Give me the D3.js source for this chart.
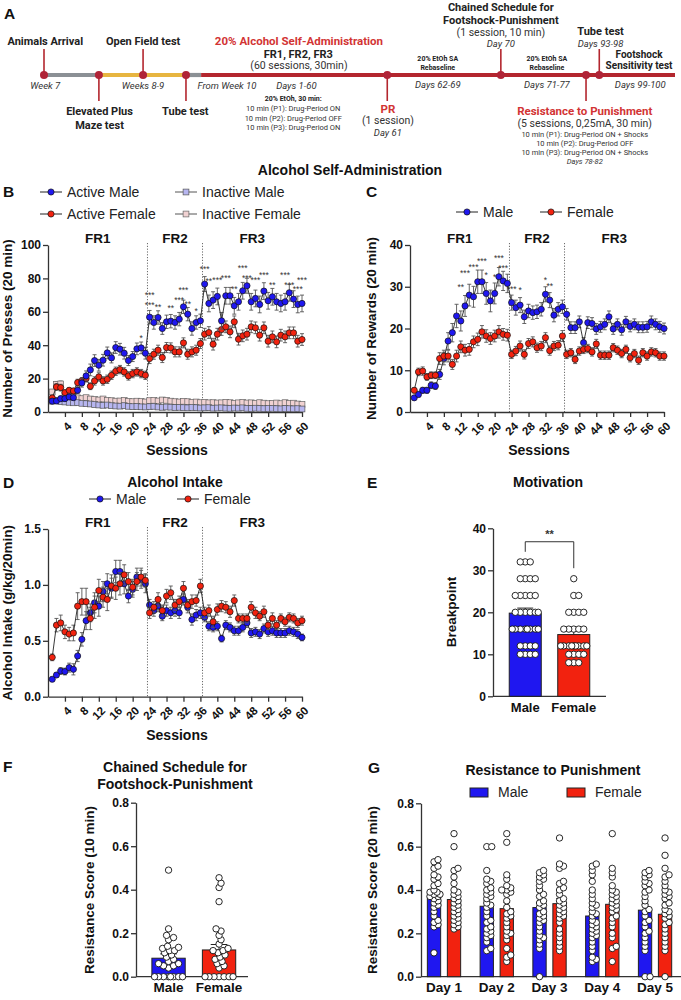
<!DOCTYPE html>
<html>
<head>
<meta charset="utf-8">
<script src="https://cdn.jsdelivr.net/npm/d3@7/dist/d3.min.js"></script>
<style>
  body { margin: 0; background: #fff; }
</style>
</head>
<body>
<div id="fig"></div>
<script>
// ---------- data ----------
const sessionTicks = [4, 8, 12, 16, 20, 24, 28, 32, 36, 40, 44, 48, 52, 56, 60];
const phases = [{name: 'FR1', from: 0, to: 23.5}, {name: 'FR2', from: 23.5, to: 36.5}, {name: 'FR3', from: 36.5, to: 60}];

// B: lever presses
const pressActiveMale = [6.5,6.6,8,8,9,8.6,13,17.4,21.6,25.2, 30.8,28,31,35.4,32.4,38.6,37.6,35.2,30.8,33.2, 37.8,38.4,35.2,56.8,53.6,56.6,50,54,54.4,53.6, 55.6,63,58.6,50,53.6,54.6,76.6,65,67,69.2, 54.6,69.6,69.6,63.6,66,72.6,75.6,66,68,64.4, 72.4,66.6,69,66,65,66,71.4,67.6,64.4,65];
const pressActiveFemale = [8.4,15,14.6,11.6,13,12.6,17.6,18.6,20,15.4, 18.6,21,18.6,19.6,22,24.4,25.4,24,21.6,23, 24,23,22,32,34.6,37,32.6,38.6,38.4,36, 36,41.4,34.6,36,37,41,46.6,47.6,40.6,46.6, 49.4,51,48,54,43.6,45.6,46.6,51,50.4,46, 50.4,42.4,45,42,46,45,47.4,47.4,42.4,43.4];
const pressInactiveMale = [6.5,7,6.2,6,5.8,5.5,5.6,5.2,5,4.8, 4.5,4.2,4,4.2,3.8,3.6,3.5,3.8,3.4,3.2, 3.3,3.1,3,3.2,3.4,3,2.8,3,2.9,2.7, 2.8,2.6,2.5,2.7,2.6,2.4,2.5,2.6,2.3,2.4, 2.5,2.3,2.2,2.4,2.3,2.5,2.2,2.1,2.3,2.2, 2,2.1,2.2,2,1.9,2.1,2,1.9,2,1.8];
const pressInactiveFemale = [12,16.5,16.8,10,9,9.5,8.5,8,8.6,7.8, 7.5,7.2,7.8,7,6.8,6.5,6.6,7,6.4,6.2, 6.5,6.3,6,6.8,7,6.6,7.2,7,6.5,6.2, 6,6.4,6.2,5.8,6,5.6,5.8,5.5,5.6,5.4, 5.5,5.8,5.6,5.2,5.5,5.7,5.4,5.5,5.2,5.6, 5.3,5,5.2,5.4,5,5.6,5.1,5.3,4.8,4.5];
const semPressActiveMale = [1.5,1.5,1.5,1.5,1.5,1.5,2,2.5,3,3.5, 3.5,3.5,3.5,3.5,3,3.5,3.5,3.5,3,3, 3.5,3.5,3.5,4,4,4,3.5,4,4,4, 4,4,4,4,4,4,4.5,5,5,5, 5,5,5,5,5,5,4.5,5,5,5, 5,5,5,5,5,5,5,5,5,5];
const semPressActiveFemale = [1.5,2,2,1.5,1.5,1.5,2,2,2,2, 2.5,2.5,2.5,2.5,2.5,2.5,2.5,2.5,2.5,2.5, 2.5,2.5,2.5,3,3,3,3,3,3,3, 3,3,3,3,3,3,3.5,3.5,3.5,3.5, 3.5,3.5,3.5,3.5,3.5,3.5,3.5,3.5,3.5,3.5, 3.5,3.5,3.5,3.5,3.5,3.5,3.5,3.5,3.5,3.5];
const semPressInactiveMale = [1,1,1,1,1,1,1,1,1,1, 0.8,0.8,0.8,0.8,0.8,0.8,0.8,0.8,0.8,0.8, 0.7,0.7,0.7,0.7,0.7,0.7,0.7,0.7,0.7,0.7, 0.6,0.6,0.6,0.6,0.6,0.6,0.6,0.6,0.6,0.6, 0.6,0.6,0.6,0.6,0.6,0.6,0.6,0.6,0.6,0.6, 0.5,0.5,0.5,0.5,0.5,0.5,0.5,0.5,0.5,0.5];
const semPressInactiveFemale = [1.5,1.8,1.8,1.2,1.2,1.2,1.1,1.1,1.1,1.1, 1,1,1,1,1,1,1,1,1,1, 1,1,1,1,1,1,1,1,1,1, 1,1,1,1,1,1,1,1,1,1, 1,1,1,1,1,1,1,1,1,1, 1,1,1,1,1,1,1,1,1,1];
const starsPress = [[22,'*',42.5],[24,'***',68],[24,'***',62.5],[26,'**',61],[29,'**',60.5],
  [31,'***',65.5],[32,'***',71],[33,'**',63],[35,'*',58.5],
  [37,'***',84],[38,'**',76.5],[40,'***',77],[42,'***',78.5],[44,'**',72],
  [46,'***',84.5],[47,'***',78.5],[49,'***',77],[51,'***',80],[53,'**',74.5],
  [56,'***',80],[57,'***',74.5],[59,'***',72],[60,'***',77]];

// C: rewards
const rewardMale = [3.4,4.2,5.2,5.2,6.4,6.2,9,12.8,17,19, 23,21.8,25.4,28,27.6,31.2,31.2,28.4,26.6,28.4, 32.4,31.4,30.8,26.2,25,25.6,22.8,24.2,23.8,24, 24.6,28.2,26.8,23.2,24.6,25.2,23.4,20.2,20.2,21.6, 16.6,21.4,21.2,19.9,20.4,21,22.8,19.9,21,19.7, 21.6,20.5,21,20.3,20.3,20.4,21.6,21,20.4,20];
const rewardFemale = [5.2,9.6,9.8,8.4,8.8,8.8,12.8,13.4,13.4,11.4, 13.4,15.6,14.8,15,16.8,17.4,19.2,18.2,17.6,18.2, 19.2,18.6,18.4,13.8,14.6,15.8,13.8,16.4,16.8,15.4, 15.8,17.8,14.7,15.8,16,18.2,13.8,14.2,12.6,14.6, 15,15.2,14.4,16.3,13.6,13.6,13.6,15.4,14.8,14, 15,13,14,12.4,14.2,13.4,14.4,14.2,13.4,13.4];
const semRewardMale = [0.5,0.6,0.7,0.7,0.8,0.8,1.2,1.5,2,2.2, 2.8,2.4,2.5,2.6,2.5,2.8,2.8,2.6,2.6,2.5, 2.2,2.3,2.2,1.8,1.8,1.8,1.6,1.6,1.6,1.6, 1.6,1.8,1.8,1.6,1.6,1.6,1.4,1.4,1.4,1.4, 1.2,1.4,1.4,1.3,1.3,1.3,1.4,1.3,1.3,1.3, 1.3,1.3,1.3,1.3,1.3,1.3,1.4,1.3,1.3,1.3];
const semRewardFemale = [0.6,0.9,1,0.8,0.8,0.8,1.4,1.4,1.4,1.2, 1.4,1.4,1.4,1.4,1.4,1.5,1.5,1.5,1.4,1.4, 1.5,1.4,1.4,1,1.1,1.2,1.1,1.2,1.2,1.1, 1.1,1.2,1.1,1.1,1.1,1.3,1,1,1,1, 1,1,1,1.1,1,1,1,1,1,1, 1,1,1,1,1,1,1,1,1,1];
const starsReward = [[12,'**',29.2],[13,'***',32.6],[15,'***',34],[17,'***',35.4],[18,'*',32],
  [20,'*',31.5],[21,'***',36.2],[22,'***',33.8],[24,'***',28.8],[26,'*',28.4],
  [32,'*',31],[33,'**',29.4]];

// D: alcohol intake (g/kg/20min)
const intakeMale = [0.156,0.194,0.23,0.225,0.26,0.245,0.364,0.513,0.68,0.75, 0.84,0.81,0.94,1.01,0.97,1.12,1.12,1.01,0.9,0.96, 1.07,1.05,1.01,0.82,0.77,0.81,0.72,0.77,0.75,0.77, 0.75,0.87,0.8,0.69,0.73,0.75,0.71,0.63,0.62,0.63, 0.52,0.64,0.62,0.59,0.59,0.62,0.66,0.57,0.58,0.56, 0.61,0.58,0.59,0.57,0.57,0.57,0.59,0.58,0.56,0.53];
const intakeFemale = [0.352,0.64,0.66,0.58,0.56,0.57,0.81,0.85,0.85,0.7, 0.8,0.95,0.89,0.87,0.99,0.97,1.01,1.09,1.03,0.98, 1.03,1.07,1.04,0.75,0.8,0.87,0.77,0.9,0.93,0.82, 0.85,0.97,0.82,0.85,0.86,0.99,0.75,0.77,0.67,0.78, 0.81,0.8,0.76,0.86,0.7,0.7,0.7,0.8,0.75,0.72, 0.76,0.64,0.7,0.64,0.7,0.67,0.71,0.7,0.66,0.68];
const semIntakeMale = [0.02,0.02,0.03,0.03,0.04,0.05,0.05,0.06,0.08,0.08, 0.09,0.09,0.09,0.09,0.09,0.1,0.1,0.09,0.06,0.07, 0.08,0.08,0.08,0.05,0.05,0.05,0.04,0.05,0.05,0.05, 0.05,0.05,0.05,0.05,0.05,0.05,0.04,0.04,0.04,0.04, 0.03,0.04,0.04,0.04,0.04,0.04,0.04,0.04,0.04,0.04, 0.04,0.04,0.04,0.04,0.04,0.04,0.04,0.04,0.04,0.03];
const semIntakeFemale = [0.03,0.06,0.07,0.06,0.06,0.07,0.12,0.12,0.12,0.1, 0.1,0.1,0.09,0.1,0.1,0.1,0.1,0.09,0.08,0.07, 0.08,0.08,0.06,0.05,0.05,0.06,0.05,0.06,0.06,0.05, 0.05,0.06,0.05,0.06,0.05,0.06,0.05,0.05,0.05,0.05, 0.05,0.05,0.05,0.05,0.04,0.04,0.04,0.05,0.05,0.04, 0.05,0.04,0.05,0.04,0.04,0.04,0.04,0.04,0.04,0.04];

// E: breakpoint
const sexes = ['Male', 'Female'];
const breakpointMean = [19.8, 14.7];
const breakpointSem = [1.2, 1.1];
const breakpointMale = [32,32,32,28,28,28,28,24,24,24,24,24,20,20,20,20,20,20,16,16,16,16,16,16,16,16,12,12,12,12,10,10,10,10];
const breakpointFemale = [28,24,24,20,20,20,20,16,16,16,16,16,12,12,12,12,12,12,12,12,12,10,10,10,10,8,8,8];
const breakpointSig = {label: '**', left: 34.4, top: 36.8, right: 30.5};

// F: chained schedule resistance score
const chainMean = [0.085, 0.123];
const chainSem = [0.02, 0.025];
const chainMale = [0,0,0,0,0,0,0,0,0.04,0.05,0.05,0.06,0.06,0.07,0.08,0.09,0.1,0.11,0.12,0.12,0.13,0.135,0.14,0.17,0.18,0.19,0.22,0.49];
const chainFemale = [0,0,0,0,0,0,0,0.04,0.05,0.06,0.07,0.08,0.09,0.1,0.11,0.12,0.12,0.13,0.15,0.17,0.19,0.21,0.22,0.345,0.41,0.43,0.455];

// G: resistance to punishment, 5 days
const days = ['Day 1', 'Day 2', 'Day 3', 'Day 4', 'Day 5'];
const punishMaleMean = [0.383, 0.325, 0.319, 0.28, 0.307];
const punishFemaleMean = [0.356, 0.314, 0.337, 0.334, 0.288];
const punishMaleSem = [0.02, 0.025, 0.025, 0.025, 0.027];
const punishFemaleSem = [0.022, 0.028, 0.024, 0.025, 0.026];
const punishMale = [
  [0.54,0.53,0.51,0.5,0.47,0.46,0.45,0.43,0.42,0.4,0.39,0.39,0.38,0.38,0.37,0.37,0.36,0.35,0.34,0.33,0.32,0.3,0.28,0.26,0.25,0.24,0.23,0.11],
  [0.6,0.6,0.49,0.45,0.44,0.43,0.41,0.4,0.39,0.38,0.37,0.36,0.34,0.33,0.32,0.3,0.28,0.26,0.25,0.23,0.22,0.21,0.2,0.19,0.18,0.16,0.13,0.12],
  [0.49,0.48,0.47,0.46,0.45,0.44,0.42,0.4,0.38,0.37,0.35,0.34,0.33,0.32,0.3,0.29,0.28,0.27,0.26,0.25,0.23,0.21,0.19,0.18,0.17,0.15,0.13,0],
  [0.52,0.51,0.49,0.47,0.44,0.4,0.38,0.36,0.34,0.33,0.32,0.3,0.29,0.28,0.26,0.25,0.24,0.23,0.22,0.21,0.2,0.19,0.18,0.16,0.14,0.12,0.09,0.08,0.07],
  [0.49,0.48,0.47,0.46,0.44,0.43,0.42,0.4,0.39,0.37,0.35,0.33,0.31,0.3,0.28,0.26,0.25,0.23,0.21,0.2,0.18,0.16,0.14,0.12,0,0]
];
const punishFemale = [
  [0.66,0.6,0.5,0.49,0.46,0.43,0.4,0.39,0.38,0.37,0.36,0.35,0.34,0.33,0.32,0.31,0.3,0.29,0.28,0.27,0.26,0.25,0.24,0.23,0.22],
  [0.66,0.62,0.47,0.45,0.42,0.41,0.4,0.4,0.39,0.38,0.35,0.32,0.3,0.29,0.28,0.27,0.25,0.23,0.21,0.2,0.19,0.17,0.13,0.1,0.09,0.07],
  [0.64,0.52,0.51,0.5,0.44,0.43,0.41,0.4,0.38,0.36,0.35,0.34,0.33,0.32,0.31,0.3,0.29,0.28,0.27,0.25,0.22,0.2,0.18,0.16,0.14,0.12],
  [0.66,0.5,0.48,0.46,0.42,0.4,0.39,0.38,0.37,0.36,0.35,0.34,0.33,0.32,0.31,0.3,0.28,0.27,0.25,0.23,0.2,0.18,0.14,0.13,0.07],
  [0.64,0.56,0.5,0.47,0.46,0.44,0.42,0.4,0.39,0.38,0.37,0.36,0.34,0.33,0.31,0.3,0.29,0.28,0.27,0.25,0.24,0.22,0.2,0.18,0.16,0.14,0.12,0]
];

// A: timeline (t = position along the schematic bar, 0-100)
const timelineSegments = [[0, 8.7, 'grey'], [8.7, 22.5, 'yellow'], [22.5, 24.9, 'grey'], [24.9, 100, 'red']];
const milestones = [0, 8.7, 15.7, 22.5, 54.4, 72.4, 85.9, 88.0];
const milestoneSide = [-1, 1, -1, 1, 1, -1, 1, -1];
const timelineNotes = [
  [0.2, 'Animals Arrival', 'h', 45], [0.2, 'Week 7', 'i', 89],
  [8.8, 'Elevated Plus', 'h', 115], [8.8, 'Maze test', 'h', 129],
  [15.7, 'Open Field test', 'h', 44.5], [15.7, 'Weeks 8-9', 'i', 89],
  [22.4, 'Tube test', 'h', 115], [29, 'From Week 10', 'i', 89], [40, 'Days 1-60', 'i', 89],
  [40.4, '20% Alcohol Self-Administration', 'hr', 44.5], [40.3, 'FR1, FR2, FR3', 'h', 57.5],
  [40.4, '(60 sessions, 30min)', 'p', 69],
  [39.5, '20% EtOh, 30 min:', 's', 101], [39.5, '10 min (P1): Drug-Period ON', 'sp', 111],
  [39.5, '10 min (P2): Drug-Period OFF', 'sp', 120.5], [39.5, '10 min (P3): Drug-Period ON', 'sp', 130],
  [54.5, 'PR', 'hr', 112.5], [54.5, '(1 session)', 'p', 124], [54.5, 'Day 61', 'i', 135.5],
  [62.4, '20% EtOh SA', 's', 61], [62.4, 'Rebaseline', 's', 70], [62.4, 'Days 62-69', 'i', 88],
  [72.4, 'Chained Schedule for', 'h', 10.5], [72.4, 'Footshock-Punishment', 'h', 23.5],
  [72.4, '(1 session, 10 min)', 'p', 35.5], [72.4, 'Day 70', 'i', 46.5],
  [79.7, '20% EtOh SA', 's', 61], [79.7, 'Rebaseline', 's', 70], [79.7, 'Days 71-77', 'i', 88],
  [85.7, 'Resistance to Punishment', 'hr', 115], [85.7, '(5 sessions, 0,25mA, 30 min)', 'p', 127],
  [85.7, '10 min (P1): Drug-Period ON + Shocks', 'sp', 136.5], [85.7, '10 min (P2): Drug-Period OFF', 'sp', 145.5],
  [85.7, '10 min (P3): Drug-Period ON + Shocks', 'sp', 155], [85.7, 'Days 78-82', 'si', 164],
  [88.2, 'Tube test', 'h', 35], [88.2, 'Days 93-98', 'i', 46.5],
  [94.3, 'Footshock', 'h2', 58], [94.3, 'Sensitivity test', 'h2', 69], [94.5, 'Days 99-100', 'i', 88]
];

// ---------- drawing ----------
const FONT = '"Liberation Sans", Arial, Helvetica, sans-serif';
const TL_FONT = 'Roboto, "Noto Sans", sans-serif';
const BLUE = '#1f17f0', RED = '#f2220f', LAV = '#b7b6f0', PINK = '#f1d2d2';

const svg = d3.select('#fig').append('svg')
  .attr('width', 681).attr('height', 1000)
  .style('font-family', FONT);

function panelLetter(x, y, t) {
  svg.append('text').attr('x', x).attr('y', y).attr('font-size', 15.5).attr('font-weight', 'bold').attr('fill', '#111').text(t);
}
function title(x, y, t) {
  svg.append('text').attr('x', x).attr('y', y).attr('text-anchor', 'middle')
    .attr('font-size', 14).attr('font-weight', 'bold').attr('fill', '#111').text(t);
}
function yTitle(x, y, t) {
  svg.append('text').attr('transform', `translate(${x},${y}) rotate(-90)`).attr('text-anchor', 'middle')
    .attr('font-size', 13.5).attr('font-weight', 'bold').attr('fill', '#111').text(t);
}
function styleAxis(a, size) {
  a.attr('font-family', FONT).attr('font-size', size || 12).attr('font-weight', 'bold');
  a.selectAll('.domain, line').attr('stroke', '#333').attr('stroke-width', 1.3);
  a.selectAll('text').attr('fill', '#111');
}

// ----- A timeline -----
const tl = d3.scaleLinear().domain([0, 100]).range([44, 675]);
const TL_Y = 75;
const segColor = {grey: '#8b9095', yellow: '#e7b540', red: '#b3262e'};
const gA = svg.append('g').style('font-family', TL_FONT);
panelLetter(4, 19, 'A');
gA.selectAll('line.seg').data(timelineSegments).join('line')
  .attr('x1', d => tl(d[0])).attr('x2', d => tl(d[1])).attr('y1', TL_Y).attr('y2', TL_Y)
  .attr('stroke', d => segColor[d[2]]).attr('stroke-width', 4.2);
gA.selectAll('line.stem').data(milestones).join('line')
  .attr('x1', d => tl(d)).attr('x2', d => tl(d)).attr('y1', TL_Y)
  .attr('y2', (d, i) => TL_Y + milestoneSide[i] * 26)
  .attr('stroke', '#b3262e').attr('stroke-width', 1.6);
gA.selectAll('circle').data(milestones).join('circle')
  .attr('cx', d => tl(d)).attr('cy', TL_Y).attr('r', 4).attr('fill', '#b02437');
const noteStyle = {
  h: {size: 11, weight: 'bold', fill: '#222'}, h2: {size: 10, weight: 'bold', fill: '#222'},
  hr: {size: 11.5, weight: 'bold', fill: '#d23434'}, p: {size: 10.5, weight: 'normal', fill: '#333'},
  i: {size: 9.5, weight: 'normal', fill: '#333', italic: true}, s: {size: 7, weight: 'bold', fill: '#222'},
  sp: {size: 7.5, weight: 'normal', fill: '#333'}, si: {size: 7.5, weight: 'normal', fill: '#333', italic: true}
};
gA.selectAll('text.note').data(timelineNotes).join('text')
  .attr('x', d => tl(d[0])).attr('y', d => d[3]).attr('text-anchor', 'middle')
  .attr('font-size', d => noteStyle[d[2]].size).attr('font-weight', d => noteStyle[d[2]].weight)
  .attr('font-style', d => noteStyle[d[2]].italic ? 'italic' : 'normal')
  .attr('fill', d => noteStyle[d[2]].fill).text(d => d[1]);

// ----- session line charts (B, C, D) -----
function marker(sel, shape, fill, stroke) {
  if (shape === 'square') {
    sel.append('rect').attr('x', -2.9).attr('y', -2.9).attr('width', 5.8).attr('height', 5.8)
      .attr('fill', fill).attr('stroke', stroke).attr('stroke-width', 0.7);
  } else {
    sel.append('circle').attr('r', 3.1).attr('fill', fill).attr('stroke', '#111').attr('stroke-width', 0.7);
  }
}

function sessionChart(c) {
  const x = d3.scaleLinear().domain([0, 60]).range(c.xr);
  const y = d3.scaleLinear().domain(c.yd).range(c.yr);
  const g = svg.append('g');

  g.selectAll('line.phase').data(phases.slice(1)).join('line')
    .attr('x1', d => x(d.from)).attr('x2', d => x(d.from))
    .attr('y1', y(c.yd[1]) - 2).attr('y2', y(0))
    .attr('stroke', '#444').attr('stroke-width', 0.8).attr('stroke-dasharray', '1.2,1.6');
  g.selectAll('text.phase').data(phases).join('text')
    .attr('x', d => x((d.from + d.to) / 2)).attr('y', c.phaseY).attr('text-anchor', 'middle')
    .attr('font-size', 13.5).attr('font-weight', 'bold').attr('fill', '#111').text(d => d.name);

  const ya = g.append('g').attr('transform', `translate(${c.xr[0]},0)`)
    .call(d3.axisLeft(y).tickValues(c.yTicks).tickFormat(c.yFmt).tickSize(5).tickSizeOuter(0).tickPadding(2));
  styleAxis(ya);
  const xa = g.append('g').attr('transform', `translate(0,${c.yr[0]})`)
    .call(d3.axisBottom(x).tickValues(sessionTicks).tickSize(5).tickSizeOuter(0));
  styleAxis(xa, 11.5);
  xa.selectAll('text').attr('y', 0).attr('dy', '0.35em').attr('text-anchor', 'end')
    .attr('transform', 'translate(4,12) rotate(-45)');

  svg.append('text').attr('x', (c.xr[0] + c.xr[1]) / 2 + 2).attr('y', c.yr[0] + 43).attr('text-anchor', 'middle')
    .attr('font-size', 14).attr('font-weight', 'bold').attr('fill', '#111').text('Sessions');
  yTitle(c.yTitleX, (c.yr[0] + c.yr[1]) / 2, c.yTitle);

  c.series.forEach(s => {
    const sg = g.append('g');
    const pts = s.values.map((v, i) => ({s: i + 1, v: v, e: s.sem[i]}));
    const ec = s.shape === 'square' ? '#777' : '#555';
    sg.selectAll('line.err').data(pts).join('line')
      .attr('x1', d => x(d.s)).attr('x2', d => x(d.s))
      .attr('y1', d => y(Math.max(0, d.v - d.e))).attr('y2', d => y(d.v + d.e))
      .attr('stroke', ec).attr('stroke-width', 0.9);
    [1, -1].forEach(sign => {
      sg.selectAll('line.cap' + sign).data(pts).join('line')
        .attr('x1', d => x(d.s) - 2).attr('x2', d => x(d.s) + 2)
        .attr('y1', d => y(Math.max(0, d.v + sign * d.e))).attr('y2', d => y(Math.max(0, d.v + sign * d.e)))
        .attr('stroke', ec).attr('stroke-width', 0.9);
    });
    sg.append('path').datum(pts)
      .attr('d', d3.line().x(d => x(d.s)).y(d => y(d.v)))
      .attr('fill', 'none').attr('stroke', s.shape === 'square' ? '#555' : '#222').attr('stroke-width', 0.9);
    sg.selectAll('g.m').data(pts).join('g')
      .attr('transform', d => `translate(${x(d.s)},${y(d.v)})`)
      .each(function () { marker(d3.select(this), s.shape, s.color, s.stroke || '#333'); });
  });

  if (c.stars) {
    g.selectAll('text.star').data(c.stars).join('text')
      .attr('x', d => x(d[0])).attr('y', d => y(d[2])).attr('text-anchor', 'middle')
      .attr('font-size', 8.5).attr('fill', '#333').text(d => d[1]);
  }
}

function legendItem(x, y, shape, fill, stroke, label) {
  const g = svg.append('g').attr('transform', `translate(${x},${y})`);
  g.append('line').attr('x1', -11).attr('x2', 11).attr('stroke', shape === 'square' ? '#555' : '#222').attr('stroke-width', 1);
  marker(g, shape, fill, stroke);
  g.append('text').attr('x', 16).attr('dy', '0.35em').attr('font-size', 14).attr('fill', '#222').text(label);
}

title(350, 175, 'Alcohol Self-Administration');

// B
panelLetter(3, 197, 'B');
legendItem(51, 192, 'circle', BLUE, '#111', 'Active Male');
legendItem(51, 214, 'circle', RED, '#111', 'Active Female');
legendItem(186, 192, 'square', LAV, '#555', 'Inactive Male');
legendItem(186, 214, 'square', PINK, '#666', 'Inactive Female');
sessionChart({
  xr: [48, 302], yr: [412, 245], yd: [0, 100], yTicks: [0, 20, 40, 60, 80, 100], yFmt: d3.format('d'),
  phaseY: 243, yTitle: 'Number of Presses (20 min)', yTitleX: 12,
  series: [
    {values: pressInactiveFemale, sem: semPressInactiveFemale, shape: 'square', color: PINK, stroke: '#666'},
    {values: pressInactiveMale, sem: semPressInactiveMale, shape: 'square', color: LAV, stroke: '#555'},
    {values: pressActiveFemale, sem: semPressActiveFemale, shape: 'circle', color: RED},
    {values: pressActiveMale, sem: semPressActiveMale, shape: 'circle', color: BLUE}
  ],
  stars: starsPress
});

// C
panelLetter(366, 197, 'C');
legendItem(467, 212, 'circle', BLUE, '#111', 'Male');
legendItem(551, 212, 'circle', RED, '#111', 'Female');
sessionChart({
  xr: [410, 664], yr: [412, 245], yd: [0, 40], yTicks: [0, 10, 20, 30, 40], yFmt: d3.format('d'),
  phaseY: 243, yTitle: 'Number of Rewards (20 min)', yTitleX: 376,
  series: [
    {values: rewardMale, sem: semRewardMale, shape: 'circle', color: BLUE},
    {values: rewardFemale, sem: semRewardFemale, shape: 'circle', color: RED}
  ],
  stars: starsReward
});

// D
panelLetter(3, 488, 'D');
title(175, 487, 'Alcohol Intake');
legendItem(100, 499, 'circle', BLUE, '#111', 'Male');
legendItem(188, 499, 'circle', RED, '#111', 'Female');
sessionChart({
  xr: [48, 302], yr: [696.7, 529], yd: [0, 1.5], yTicks: [0, 0.5, 1.0, 1.5], yFmt: d3.format('.1f'),
  phaseY: 527, yTitle: 'Alcohol Intake (g/kg/20min)', yTitleX: 12,
  series: [
    {values: intakeMale, sem: semIntakeMale, shape: 'circle', color: BLUE},
    {values: intakeFemale, sem: semIntakeFemale, shape: 'circle', color: RED}
  ]
});

// ----- bar + dot panels (E, F, G) -----
function swarm(vals, y, cx, minD, half) {
  const placed = [];
  vals.slice().sort((a, b) => a - b).forEach(v => {
    const py = y(v);
    let best = 0, bestScore = -Infinity;
    for (let k = 0; k <= 2 * half; k++) {
      const off = (k % 2 ? 1 : -1) * Math.ceil(k / 2);
      let md = Infinity;
      placed.forEach(p => { const d = Math.hypot(p.x - (cx + off), p.y - py); if (d < md) md = d; });
      if (md >= minD) { best = off; break; }
      if (md > bestScore) { bestScore = md; best = off; }
    }
    placed.push({x: cx + best, y: py});
  });
  return placed;
}

function barsWithDots(g, items, y, minD, half) {
  items.forEach(it => {
    g.append('rect').attr('x', it.x).attr('y', y(it.mean)).attr('width', it.w).attr('height', y(0) - y(it.mean))
      .attr('fill', it.color).attr('stroke', '#222').attr('stroke-width', 1);
    const cx = it.x + it.w / 2;
    g.append('line').attr('x1', cx).attr('x2', cx).attr('y1', y(it.mean)).attr('y2', y(it.mean + it.sem))
      .attr('stroke', '#222').attr('stroke-width', 1);
    g.append('line').attr('x1', cx - it.w / 4).attr('x2', cx + it.w / 4).attr('y1', y(it.mean + it.sem)).attr('y2', y(it.mean + it.sem))
      .attr('stroke', '#222').attr('stroke-width', 1);
  });
  items.forEach(it => {
    const pts = swarm(it.dots, y, it.x + it.w / 2, minD, half);
    g.selectAll(null).data(pts).join('circle')
      .attr('cx', d => d.x).attr('cy', d => d.y).attr('r', 3.2)
      .attr('fill', '#fff').attr('stroke', '#111').attr('stroke-width', 0.9);
  });
}

function bottomLabels(g, band, yPos, x0, x1, size) {
  g.append('line').attr('x1', x0).attr('x2', x1).attr('y1', yPos).attr('y2', yPos).attr('stroke', '#333').attr('stroke-width', 1.3);
  const a = g.append('g').attr('transform', `translate(0,${yPos})`)
    .call(d3.axisBottom(band).tickSize(0).tickPadding(6));
  a.select('.domain').remove();
  a.attr('font-family', FONT).attr('font-size', size).attr('font-weight', 'bold');
  a.selectAll('text').attr('fill', '#111');
}

// E
panelLetter(367, 488, 'E');
title(548, 487, 'Motivation');
{
  const g = svg.append('g');
  const y = d3.scaleLinear().domain([0, 40]).range([696.3, 528.3]);
  const x = d3.scaleBand().domain(sexes).range([501, 598]).paddingInner(0.34).paddingOuter(0.17);
  const ya = g.append('g').attr('transform', 'translate(493,0)')
    .call(d3.axisLeft(y).tickValues([0, 10, 20, 30, 40]).tickSize(5).tickSizeOuter(0).tickPadding(2));
  styleAxis(ya);
  bottomLabels(g, x, 696.3, 493, 606, 13);
  barsWithDots(g, [
    {x: x('Male'), w: x.bandwidth(), mean: breakpointMean[0], sem: breakpointSem[0], color: BLUE, dots: breakpointMale},
    {x: x('Female'), w: x.bandwidth(), mean: breakpointMean[1], sem: breakpointSem[1], color: RED, dots: breakpointFemale}
  ], y, 4.6, 13);
  const xm = x('Male') + x.bandwidth() / 2, xf = x('Female') + x.bandwidth() / 2;
  g.append('path')
    .attr('d', `M${xm},${y(breakpointSig.left)}V${y(breakpointSig.top)}H${xf}V${y(breakpointSig.right)}`)
    .attr('fill', 'none').attr('stroke', '#333').attr('stroke-width', 1);
  g.append('text').attr('x', (xm + xf) / 2).attr('y', y(breakpointSig.top) - 4).attr('text-anchor', 'middle')
    .attr('font-size', 11).attr('font-weight', 'bold').attr('fill', '#333').text(breakpointSig.label);
  yTitle(456, 612, 'Breakpoint');
}

// F
panelLetter(3, 772, 'F');
title(175, 772, 'Chained Schedule for');
title(175, 789, 'Footshock-Punishment');
{
  const g = svg.append('g');
  const y = d3.scaleLinear().domain([0, 0.8]).range([976.7, 802.7]);
  const x = d3.scaleBand().domain(sexes).range([143.3, 244.3]).paddingInner(0.34).paddingOuter(0.17);
  const ya = g.append('g').attr('transform', 'translate(136,0)')
    .call(d3.axisLeft(y).tickValues([0, 0.2, 0.4, 0.6, 0.8]).tickFormat(d3.format('.1f')).tickSize(5).tickSizeOuter(0).tickPadding(2));
  styleAxis(ya);
  bottomLabels(g, x, 976.7, 136, 248, 13.5);
  barsWithDots(g, [
    {x: x('Male'), w: x.bandwidth(), mean: chainMean[0], sem: chainSem[0], color: BLUE, dots: chainMale},
    {x: x('Female'), w: x.bandwidth(), mean: chainMean[1], sem: chainSem[1], color: RED, dots: chainFemale}
  ], y, 4.6, 14);
  yTitle(94, 890, 'Resistance Score (10 min)');
}

// G
panelLetter(368, 773, 'G');
title(553, 775, 'Resistance to Punishment');
{
  const g = svg.append('g');
  const y = d3.scaleLinear().domain([0, 0.8]).range([976.7, 803.3]);
  const x = d3.scaleBand().domain(days).range([417.6, 681.4]);
  const xs = d3.scaleBand().domain(sexes).range([6.4, 46.4]).paddingInner(0.335).paddingOuter(0.1675);
  const ya = g.append('g').attr('transform', 'translate(421,0)')
    .call(d3.axisLeft(y).tickValues([0, 0.2, 0.4, 0.6, 0.8]).tickFormat(d3.format('.1f')).tickSize(5).tickSizeOuter(0).tickPadding(2));
  styleAxis(ya);
  bottomLabels(g, x, 976.7, 421, 681, 13.5);
  const items = [];
  days.forEach((d, i) => {
    items.push({x: x(d) + xs('Male'), w: xs.bandwidth(), mean: punishMaleMean[i], sem: punishMaleSem[i], color: BLUE, dots: punishMale[i]});
    items.push({x: x(d) + xs('Female'), w: xs.bandwidth(), mean: punishFemaleMean[i], sem: punishFemaleSem[i], color: RED, dots: punishFemale[i]});
  });
  barsWithDots(g, items, y, 4.2, 6);
  // legend
  [[470, BLUE, 'Male'], [567, RED, 'Female']].forEach(l => {
    svg.append('rect').attr('x', l[0]).attr('y', 788).attr('width', 18).attr('height', 9)
      .attr('fill', l[1]).attr('stroke', '#222').attr('stroke-width', 1);
    svg.append('text').attr('x', l[0] + 28).attr('y', 797).attr('font-size', 14).attr('fill', '#222').text(l[2]);
  });
  yTitle(377, 890, 'Resistance Score (20 min)');
}
</script>
</body>
</html>
